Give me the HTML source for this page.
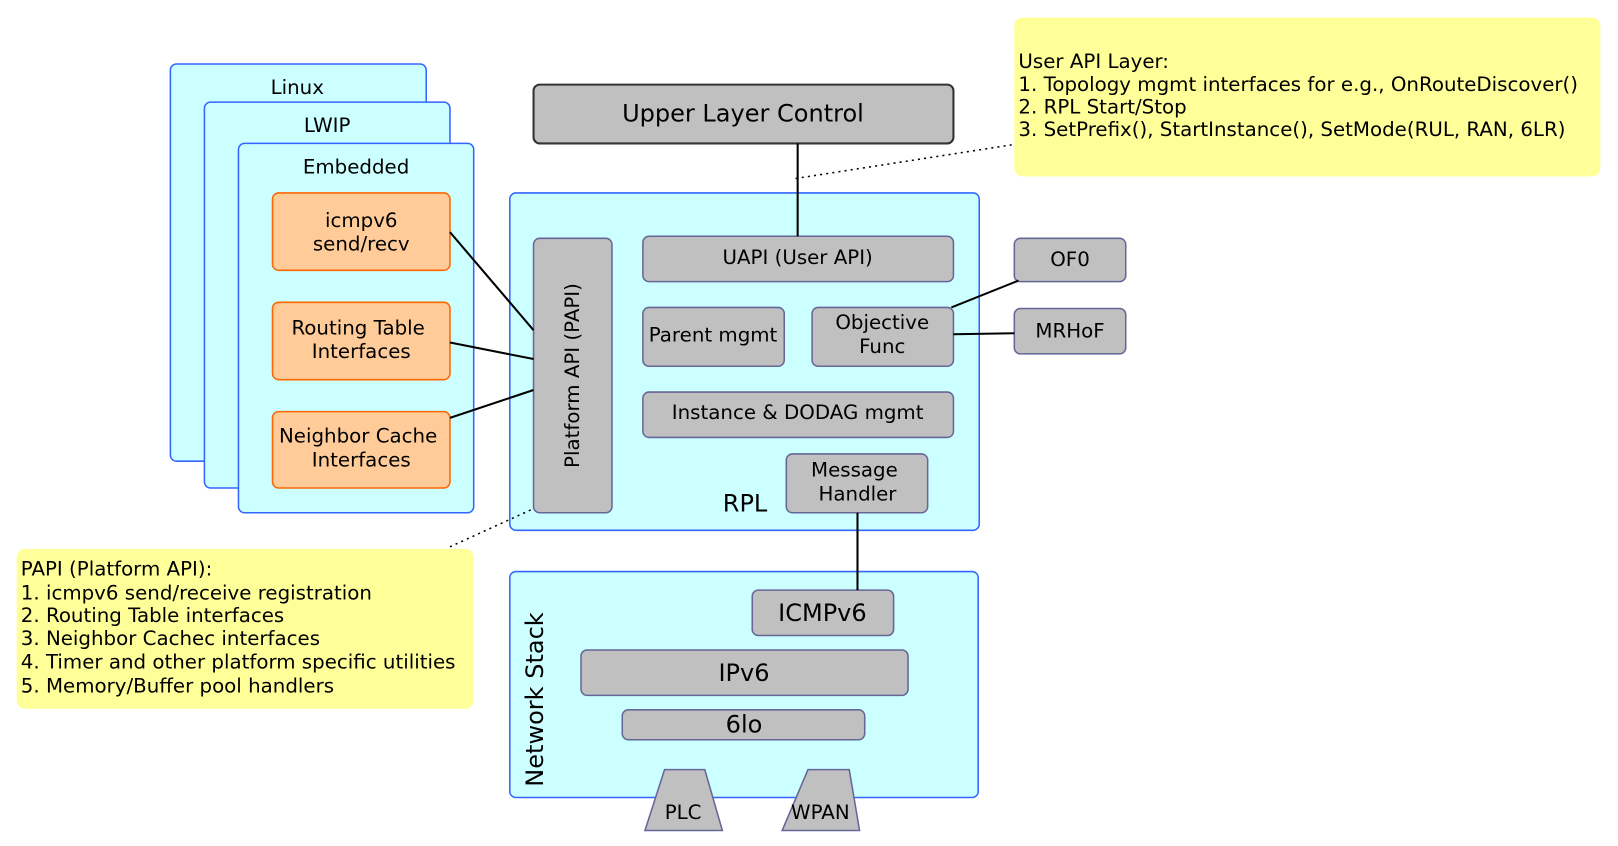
<!DOCTYPE html>
<html><head><style>body{margin:0;background:#fff}svg{display:block}text{font-family:"DejaVu Sans","Liberation Sans",sans-serif;fill:#000}</style></head><body>
<svg width="1618" height="846" viewBox="0 0 1568 820" xmlns="http://www.w3.org/2000/svg">
<g fill="#ccffff" stroke="#3366ff" stroke-width="1.5">
<rect x="165" y="62" width="248" height="385" rx="6"/>
<rect x="198" y="99" width="238" height="374" rx="6"/>
<rect x="231" y="139" width="228" height="358" rx="6"/>
<rect x="494" y="187" width="455" height="327" rx="6"/>
<rect x="494" y="554" width="454" height="219" rx="6"/>
</g>
<g font-size="19.2" text-anchor="middle">
<text x="288" y="91">Linux</text><text x="317" y="128">LWIP</text><text x="345" y="168">Embedded</text>
</g>
<g fill="#ffcc99" stroke="#ff6600" stroke-width="1.5">
<rect x="264" y="187" width="172" height="75" rx="6"/>
<rect x="264" y="293" width="172" height="75" rx="6"/>
<rect x="264" y="399" width="172" height="74" rx="6"/>
</g>
<g font-size="19.2" text-anchor="middle">
<text x="350" y="220">icmpv6</text><text x="350" y="243">send/recv</text>
<text x="347" y="324">Routing Table</text><text x="350" y="347">Interfaces</text>
<text x="347" y="429">Neighbor Cache</text><text x="350" y="452">Interfaces</text>
</g>
<g fill="#c0c0c0" stroke="#666699" stroke-width="1.5">
<rect x="517" y="231" width="76" height="266" rx="6"/>
<rect x="623" y="229" width="301" height="44" rx="6"/>
<rect x="623" y="298" width="137" height="57" rx="6"/>
<rect x="787" y="298" width="137" height="57" rx="6"/>
<rect x="623" y="380" width="301" height="44" rx="6"/>
<rect x="762" y="440" width="137" height="57" rx="6"/>
<rect x="983" y="231" width="108" height="42" rx="6"/>
<rect x="983" y="299" width="108" height="44" rx="6"/>
<rect x="729" y="572" width="137" height="44" rx="6"/>
<rect x="563" y="630" width="317" height="44" rx="6"/>
<rect x="603" y="688" width="235" height="29" rx="6"/>
<polygon points="644,746 683,746 700,805 625,805"/>
<polygon points="783,746 823,746 833,805 758,805"/>
</g>
<rect x="517" y="82" width="407" height="57" rx="6" fill="#c0c0c0" stroke="#333" stroke-width="2"/>
<g font-size="19.2" text-anchor="middle">
<text x="555" y="370" transform="rotate(-90 555 364)">Platform API (PAPI)</text>
<text x="773" y="256">UAPI (User API)</text>
<text x="691" y="331">Parent mgmt</text>
<text x="855" y="319">Objective</text><text x="855" y="342">Func</text>
<text x="773" y="406">Instance &amp; DODAG mgmt</text>
<text x="828" y="462">Message</text><text x="831" y="485">Handler</text>
<text x="1037" y="258">OF0</text><text x="1037" y="327">MRHoF</text>
<text x="662" y="794">PLC</text><text x="795" y="794">WPAN</text>
</g>
<g font-size="23.3" text-anchor="middle">
<text x="720" y="118">Upper Layer Control</text>
<text x="722" y="496">RPL</text>
<text x="797" y="602">ICMPv6</text>
<text x="721" y="660">IPv6</text>
<text x="721" y="710">6lo</text>
<text x="518" y="686" transform="rotate(-90 518 678)">Network Stack</text>
</g>
<rect x="983" y="17" width="568" height="154" rx="8" fill="#ffff99"/>
<rect x="16" y="532" width="443" height="155" rx="8" fill="#ffff99"/>
<g font-size="19.2">
<text x="987" y="66">User API Layer:</text>
<text x="987" y="88">1. Topology mgmt interfaces for e.g., OnRouteDiscover()</text>
<text x="987" y="110">2. RPL Start/Stop</text>
<text x="987" y="132">3. SetPrefix(), StartInstance(), SetMode(RUL, RAN, 6LR)</text>
<text x="20" y="558">PAPI (Platform API):</text>
<text x="20" y="581">1. icmpv6 send/receive registration</text>
<text x="20" y="603">2. Routing Table interfaces</text>
<text x="20" y="625">3. Neighbor Cachec interfaces</text>
<text x="20" y="648">4. Timer and other platform specific utilities</text>
<text x="20" y="671">5. Memory/Buffer pool handlers</text>
</g>
<g stroke="#000" stroke-width="2">
<line x1="773" y1="139" x2="773" y2="229"/>
<line x1="436" y1="225" x2="517" y2="320"/>
<line x1="436" y1="332" x2="517" y2="348"/>
<line x1="436" y1="405" x2="517" y2="378"/>
<line x1="922" y1="298" x2="987" y2="272"/>
<line x1="924" y1="324" x2="983" y2="323"/>
<line x1="831" y1="497" x2="831" y2="572"/>
</g>
<g stroke="#000" stroke-width="1.5" stroke-dasharray="2,4">
<line x1="771" y1="173" x2="983" y2="140"/>
<line x1="436" y1="530" x2="517" y2="493"/>
</g>
</svg>
</body></html>
